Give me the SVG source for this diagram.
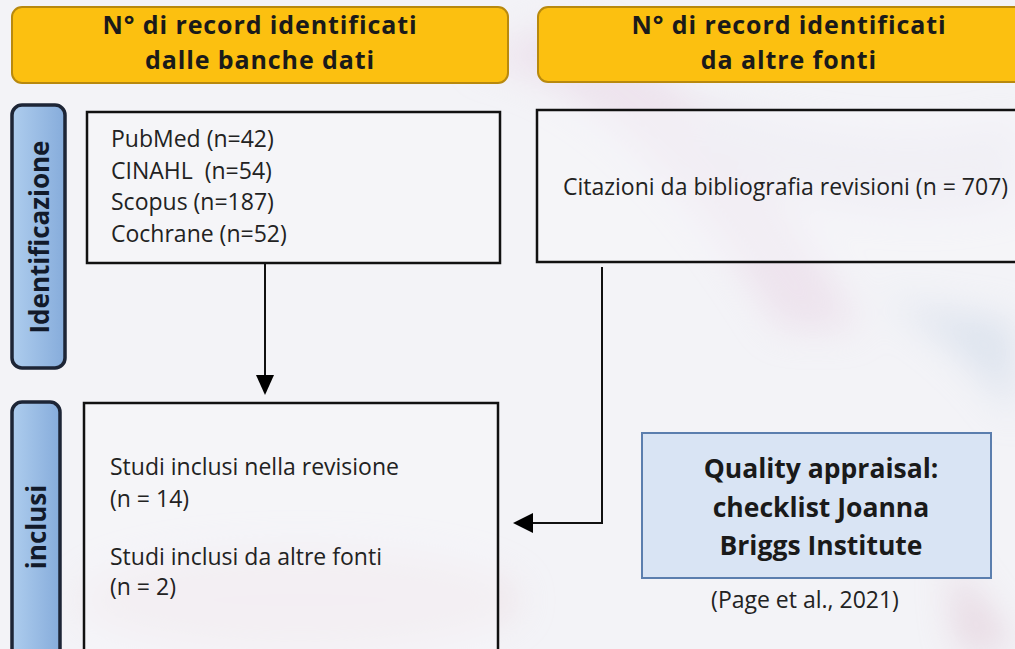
<svg xmlns="http://www.w3.org/2000/svg" width="1015" height="649" viewBox="0 0 1015 649">
<defs>
<filter id="blur" x="-50%" y="-50%" width="200%" height="200%"><feGaussianBlur stdDeviation="18"/></filter>
<linearGradient id="blueg" x1="0" y1="0" x2="1" y2="0"><stop offset="0" stop-color="#aecdee"/><stop offset="1" stop-color="#86acdb"/></linearGradient>
<style>
.hdr{fill:#fcc010;stroke:#b8890e;stroke-width:2}
.hdrt{font-family:"Open Sans",sans-serif;font-weight:bold;font-size:25px;letter-spacing:0.9px;fill:#1a1a1a;text-anchor:middle}
.lab{fill:url(#blueg);stroke:#1d2536;stroke-width:3.5}
.labt{font-family:"Open Sans",sans-serif;font-weight:bold;font-size:26px;fill:#121a2a;text-anchor:middle}
.box{fill:#f6f6fa;fill-opacity:0.55;stroke:#111;stroke-width:2.5}
.bt{font-family:"Open Sans",sans-serif;font-size:23px;fill:#222}
.qa{fill:#d9e4f4;stroke:#5b7eae;stroke-width:2}
.qat{font-family:"Open Sans",sans-serif;font-weight:bold;font-size:26.5px;fill:#1a1a1a;text-anchor:middle}
.con{fill:none;stroke:#111;stroke-width:2}
</style>
</defs>
<rect x="0" y="0" width="1015" height="649" fill="#f3f3f7"/>
<g opacity="0.5" filter="url(#blur)">
<path d="M470,60 C600,80 700,200 780,330 L860,330 C780,180 680,60 560,20 Z" fill="#e8d4e4"/>
<path d="M700,100 C820,140 940,150 1015,120 L1015,200 C900,230 800,200 700,160 Z" fill="#e2dbe8"/>
<path d="M880,300 C940,330 990,380 1015,420 L1015,320 Z" fill="#c9d6e6"/>
<path d="M950,560 C980,600 1000,630 1015,649 L960,649 Z" fill="#d9b8c8"/>
<ellipse cx="300" cy="600" rx="220" ry="50" fill="#ecd9de"/>
</g>
<g id="hdr-left">
<rect class="hdr" x="12" y="7" width="496" height="76" rx="10"/>
<text class="hdrt" x="260" y="34">N° di record identificati</text>
<text class="hdrt" x="260" y="69">dalle banche dati</text>
</g>
<g id="hdr-right">
<rect class="hdr" x="538" y="7" width="490" height="75" rx="10"/>
<text class="hdrt" x="789" y="34">N° di record identificati</text>
<text class="hdrt" x="789" y="69">da altre fonti</text>
</g>
<g id="lab-ident">
<rect class="lab" x="12" y="105" width="53" height="263" rx="10"/>
<text class="labt" transform="translate(49,237) rotate(-90)">Identificazione</text>
</g>
<g id="lab-inclusi">
<rect class="lab" x="12" y="402" width="48" height="270" rx="10"/>
<text class="labt" transform="translate(46,527) rotate(-90)">inclusi</text>
</g>
<g id="box-db">
<rect class="box" x="87" y="112" width="413" height="151"/>
<text class="bt" x="111" y="147">PubMed (n=42)</text>
<text class="bt" x="111" y="179" xml:space="preserve">CINAHL  (n=54)</text>
<text class="bt" x="111" y="210">Scopus (n=187)</text>
<text class="bt" x="111" y="242">Cochrane (n=52)</text>
</g>
<g id="box-other">
<rect class="box" x="537" y="110" width="490" height="152" fill-opacity="0.2"/>
<text class="bt" x="563" y="195">Citazioni da bibliografia revisioni (n = 707)</text>
</g>
<g id="box-incl">
<rect class="box" x="84" y="403" width="414" height="270"/>
<text class="bt" x="110" y="475">Studi inclusi nella revisione</text>
<text class="bt" x="110" y="507">(n = 14)</text>
<text class="bt" x="110" y="565">Studi inclusi da altre fonti</text>
<text class="bt" x="110" y="595">(n = 2)</text>
</g>
<g id="box-qa">
<rect class="qa" x="642" y="433" width="349" height="145"/>
<text class="qat" x="821" y="478">Quality appraisal:</text>
<text class="qat" x="821" y="517">checklist Joanna</text>
<text class="qat" x="821" y="555">Briggs Institute</text>
</g>
<g id="cite">
<text class="bt" x="805" y="608" text-anchor="middle" font-size="21.5">(Page et al., 2021)</text>
</g>
<g id="connectors">
<path class="con" d="M265,263 V377" />
<path d="M256,375 L274,375 L265,395 Z" fill="#000"/>
<path class="con" d="M602,267 V523 H530" />
<path d="M533,513 L533,533 L513,523 Z" fill="#000"/>
</g>
</svg>
